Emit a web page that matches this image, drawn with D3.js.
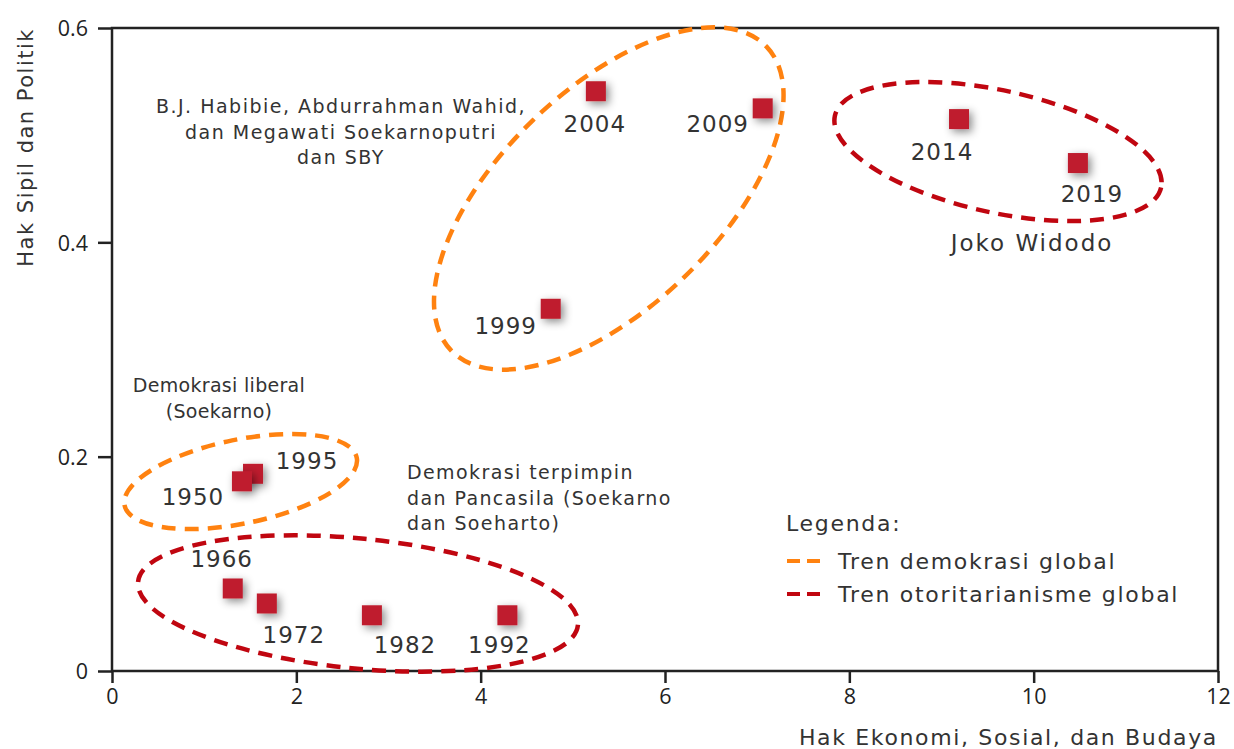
<!DOCTYPE html>
<html>
<head>
<meta charset="utf-8">
<script src="https://cdn.jsdelivr.net/npm/d3@7"></script>
<style>
  body { margin: 0; background: #fff; }
  svg { display: block; }
  .lbl { font-family: "DejaVu Sans", sans-serif; fill: #333; }
  .tick text { font-family: "Open Sans", sans-serif; font-size: 21.5px; fill: #222; }
</style>
</head>
<body>
<svg id="chart"></svg>
<script>
// years plotted, with their scores
const years = ['1950', '1995', '1966', '1972', '1982', '1992', '1999', '2004', '2009', '2014', '2019'];
const ekosob = [1.41, 1.53, 1.31, 1.68, 2.82, 4.29, 4.76, 5.25, 7.06, 9.19, 10.48];
const sipol = [0.177, 0.184, 0.077, 0.063, 0.052, 0.052, 0.338, 0.541, 0.525, 0.515, 0.474];

const xTicks = [0, 2, 4, 6, 8, 10, 12];
const yTicks = [0, 0.2, 0.4, 0.6];

// period groups (ellipse centres in data units)
const groupNames = ['liberal', 'terpimpin', 'reformasi', 'jokowi'];
const groupTrend = ['demokrasi', 'otoritarianisme', 'demokrasi', 'otoritarianisme'];
const groupX = [1.396, 2.669, 5.39, 9.613];
const groupY = [0.1768, 0.063, 0.4409, 0.4847];

const legendItems = ['Tren demokrasi global', 'Tren otoritarianisme global'];

const margin = { top: 28, right: 16, bottom: 78, left: 112 };
const W = 1234, H = 749;
const width = W - margin.left - margin.right;
const height = H - margin.top - margin.bottom;

const colors = { demokrasi: '#ff8210', otoritarianisme: '#c00610' };

const root = d3.select('#chart').attr('width', W).attr('height', H);

const defs = root.append('defs');
const f = defs.append('filter').attr('id', 'shadow')
  .attr('x', '-100%').attr('y', '-100%').attr('width', '300%').attr('height', '300%');
f.append('feDropShadow').attr('dx', 3).attr('dy', 3).attr('stdDeviation', 4)
  .attr('flood-color', '#000').attr('flood-opacity', 0.45);

const svg = root.append('g').attr('transform', `translate(${margin.left},${margin.top})`);

const x = d3.scaleLinear().domain([0, 12]).range([0, width]);
const y = d3.scaleLinear().domain([0, 0.6]).range([height, 0]);

// frame
svg.append('rect').attr('width', width).attr('height', height)
  .attr('fill', 'none').attr('stroke', '#222').attr('stroke-width', 2.5);

const xAxis = svg.append('g').attr('transform', `translate(0,${height})`)
  .call(d3.axisBottom(x).tickValues(xTicks).tickFormat(d3.format('d')).tickSize(12).tickPadding(6));
const yAxis = svg.append('g')
  .call(d3.axisLeft(y).tickValues(yTicks).tickFormat(d => d === 0 ? '0' : d3.format('.1f')(d)).tickSize(14).tickPadding(10));
[xAxis, yAxis].forEach(a => {
  a.select('.domain').remove();
  a.selectAll('.tick line').attr('stroke', '#222').attr('stroke-width', 2.5);
});
yAxis.selectAll('.tick text').attr('dy', '0.36em');

// axis titles
svg.append('text').attr('class', 'lbl')
  .attr('transform', `translate(-79,0) rotate(-90)`)
  .attr('text-anchor', 'end').attr('font-size', 21).attr('letter-spacing', 1.5)
  .text('Hak Sipil dan Politik');
svg.append('text').attr('class', 'lbl')
  .attr('x', width).attr('y', height + 74)
  .attr('text-anchor', 'end').attr('font-size', 22).attr('letter-spacing', 1.65)
  .text('Hak Ekonomi, Sosial, dan Budaya');

// trend ellipses
const ellRx = [118.5, 221, 219, 167];
const ellRy = [42, 65, 109, 61];
const ellRot = [-11.6, 5.6, -44, 12.4];
svg.selectAll('.grp').data(groupNames).enter().append('ellipse')
  .attr('class', 'grp')
  .attr('rx', (d, i) => ellRx[i]).attr('ry', (d, i) => ellRy[i])
  .attr('transform', (d, i) => `translate(${x(groupX[i])},${y(groupY[i])}) rotate(${ellRot[i]})`)
  .attr('fill', 'none')
  .attr('stroke', (d, i) => colors[groupTrend[i]])
  .attr('stroke-width', 4.5)
  .attr('stroke-dasharray', '14 9');

// points
const sq = 20;
svg.selectAll('.pt').data(years.slice().reverse()).enter().append('rect')
  .attr('class', 'pt')
  .attr('x', d => x(ekosob[years.indexOf(d)]) - sq / 2)
  .attr('y', d => y(sipol[years.indexOf(d)]) - sq / 2)
  .attr('width', sq).attr('height', sq)
  .attr('fill', '#bf1e2e')
  .attr('filter', 'url(#shadow)');

// year labels: offsets from point in px
const labDx = [-49, 54, -11, 27, 33, -8, -45, -1, -45, -17, 14];
const labDy = [24, -5, -21, 40, 38, 38, 25, 41, 24, 41, 39];
svg.selectAll('.yr').data(years).enter().append('text')
  .attr('class', 'lbl yr')
  .attr('x', (d, i) => x(ekosob[i]) + labDx[i])
  .attr('y', (d, i) => y(sipol[i]) + labDy[i])
  .attr('text-anchor', 'middle').attr('font-size', 23).attr('letter-spacing', 1)
  .text(d => d);

// period notes
function note(lines, px, py, anchor, size, ls, lh) {
  const t = svg.append('text').attr('class', 'lbl').attr('text-anchor', anchor)
    .attr('font-size', size).attr('letter-spacing', ls);
  lines.forEach((l, i) => t.append('tspan').attr('x', px).attr('y', py + i * lh).text(l));
}
note(['B.J. Habibie, Abdurrahman Wahid,', 'dan Megawati Soekarnoputri', 'dan SBY'], 341 - margin.left, 113 - margin.top, 'middle', 19, 1.5, 25.5);
note(['Demokrasi liberal', '(Soekarno)'], 219 - margin.left, 392 - margin.top, 'middle', 19, 0.3, 25.5);
note(['Demokrasi terpimpin', 'dan Pancasila (Soekarno', 'dan Soeharto)'], 407 - margin.left, 479 - margin.top, 'start', 19, 1.4, 25.5);
note(['Joko Widodo'], 1032 - margin.left, 251 - margin.top, 'middle', 23, 2, 25);

// legend
const lg = svg.append('g').attr('transform', `translate(${786 - margin.left},${523 - margin.top})`);
lg.append('text').attr('class', 'lbl').attr('y', 8).attr('font-size', 22).attr('letter-spacing', 1.7).text('Legenda:');
legendItems.forEach((name, i) => {
  const g = lg.append('g').attr('transform', `translate(0,${38 + i * 33})`);
  g.append('line').attr('x1', 1).attr('x2', 34)
    .attr('stroke', i === 0 ? colors.demokrasi : colors.otoritarianisme)
    .attr('stroke-width', 4).attr('stroke-dasharray', '13 7');
  g.append('text').attr('class', 'lbl').attr('x', 52).attr('y', 8)
    .attr('font-size', 22).attr('letter-spacing', 1.7).text(name);
});
</script>
</body>
</html>
